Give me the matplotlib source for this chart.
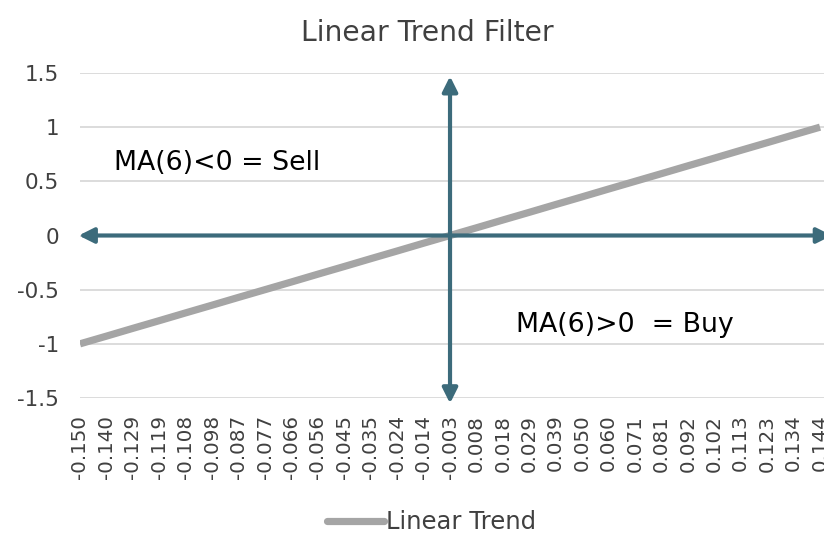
import matplotlib

matplotlib.use("Agg")

import matplotlib.pyplot as plt

# category labels on the x axis
x_labels = [
    "-0.150", "-0.140", "-0.129", "-0.119", "-0.108", "-0.098", "-0.087", "-0.077",
    "-0.066", "-0.056", "-0.045", "-0.035", "-0.024", "-0.014", "-0.003", "0.008",
    "0.018", "0.029", "0.039", "0.050", "0.060", "0.071", "0.081", "0.092",
    "0.102", "0.113", "0.123", "0.134", "0.144",
]
# linear trend series
trend_values = [
    -1.000, -0.929, -0.857, -0.786, -0.714, -0.643, -0.571, -0.500,
    -0.429, -0.357, -0.286, -0.214, -0.143, -0.071, 0.000, 0.071,
    0.143, 0.214, 0.286, 0.357, 0.429, 0.500, 0.571, 0.643,
    0.714, 0.786, 0.857, 0.929, 1.000,
]
y_ticks = [-1.5, -1, -0.5, 0, 0.5, 1, 1.5]
y_tick_labels = ["-1.5", "-1", "-0.5", "0", "0.5", "1", "1.5"]

sell_text = "MA(6)<0 = Sell"
buy_text = "MA(6)>0  = Buy"

ARROW = "#3C6B7B"
GREY_LINE = "#A5A5A5"
GRID = "#D9D9D9"
TEXT = "#404040"

plt.rcParams["font.family"] = ["DejaVu Sans"]

fig = plt.figure(figsize=(8.24, 5.35), dpi=100)
ax = fig.add_axes([80 / 824, 1 - 398 / 535, 744 / 824, 325 / 535])

positions = list(range(len(x_labels)))
ax.plot(positions, trend_values, color=GREY_LINE, linewidth=5.2,
        solid_capstyle="butt", label="Linear Trend", zorder=2)

ax.set_xlim(0, 28.15)
ax.set_ylim(-1.5, 1.5)
ax.set_yticks(y_ticks)
ax.set_yticklabels(y_tick_labels)
ax.set_xticks(positions)
ax.set_xticklabels(x_labels, rotation=90, va="top")
ax.tick_params(axis="y", length=0, pad=15, labelsize=15.5, labelcolor=TEXT)
ax.tick_params(axis="x", length=0, pad=12, labelsize=14.3, labelcolor=TEXT)
ax.grid(axis="y", color=GRID, linewidth=1.3, zorder=0)
for spine in ax.spines.values():
    spine.set_visible(False)

arrow_style = dict(arrowstyle="<|-|>,head_length=0.9,head_width=0.45",
                   color=ARROW, linewidth=3.0, shrinkA=0, shrinkB=0)
# horizontal zero line with heads at both ends
ax.annotate("", xy=(28.45, 0), xytext=(-0.05, 0),
            arrowprops=arrow_style, annotation_clip=False, zorder=3)
# vertical arrow at the middle category
ax.annotate("", xy=(14, 1.47), xytext=(14, -1.55),
            arrowprops=arrow_style, annotation_clip=False, zorder=3)

ax.text(1.3, 0.67, sell_text, fontsize=19.3, color="black", va="center", ha="left")
ax.text(16.5, -0.83, buy_text, fontsize=19.3, color="black", va="center", ha="left")

fig.suptitle("Linear Trend Filter", x=0.519, y=0.965, fontsize=20.3, color=TEXT)

leg = fig.legend(loc="center", bbox_to_anchor=(0.524, 0.024), frameon=False,
                 fontsize=17.5, handlelength=2.35, handletextpad=0.1, labelcolor=TEXT)
for line in leg.get_lines():
    line.set_solid_capstyle("round")

fig.savefig("out.png", dpi=100)
plt.close(fig)
